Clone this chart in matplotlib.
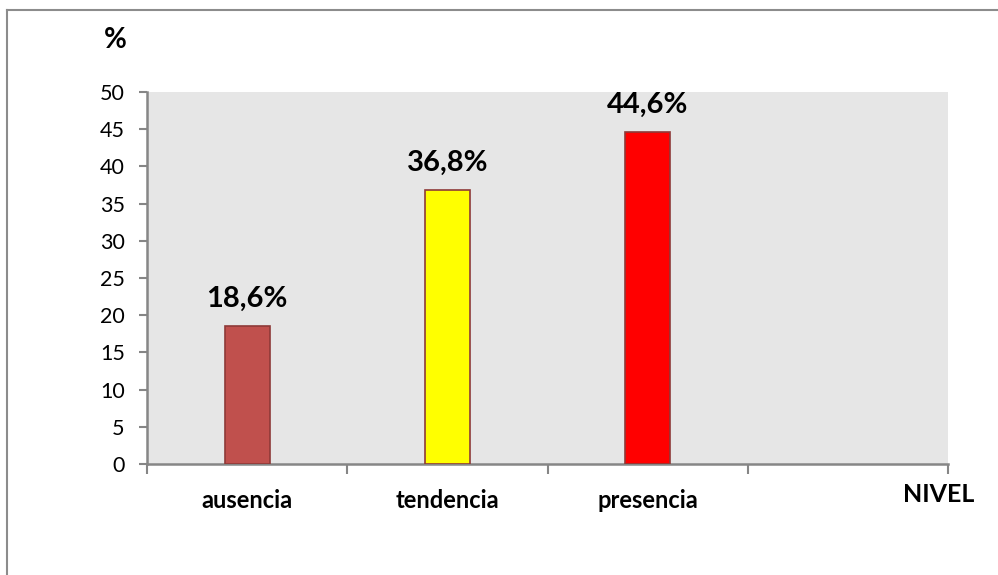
import matplotlib
matplotlib.use("Agg")
import matplotlib.pyplot as plt
from matplotlib.lines import Line2D

categories = ["ausencia", "tendencia", "presencia", ""]
values = [18.6, 36.8, 44.6]
value_labels = ["18,6%", "36,8%", "44,6%"]
bar_colors = ["#C0504D", "#FFFF00", "#FF0000"]
yticks = [0, 5, 10, 15, 20, 25, 30, 35, 40, 45, 50]

plt.rcParams['font.family'] = ['Lato', 'DejaVu Sans']

W, H = 998, 575
fig = plt.figure(figsize=(W / 100, H / 100), dpi=100)
ax = fig.add_axes([147 / W, 1 - 464 / H, (948 - 147) / W, (464 - 92) / H])
ax.set_facecolor("#E6E6E6")

x = list(range(len(values)))
ax.bar(x, values, width=0.225, color=bar_colors, edgecolor="#8E3A38", linewidth=1.2, zorder=3)
for xi, v, lab in zip(x, values, value_labels):
    ax.text(xi, v + 1.9, lab, ha="center", va="bottom", fontsize=21, fontweight="bold")

ax.set_xlim(-0.5, len(categories) - 0.5)
ax.set_ylim(0, 50)
ax.set_yticks(yticks)
ax.set_yticklabels([str(t) for t in yticks], fontsize=15.5)
ax.set_xticks(range(len(categories)))
ax.set_xticklabels(categories, fontsize=17, fontweight="bold")
ax.tick_params(axis="x", which="major", length=0, pad=18)
ax.set_xticks([i - 0.5 for i in range(len(categories) + 1)], minor=True)
ax.tick_params(axis="x", which="minor", length=7, color="#868686", width=1.5)
ax.tick_params(axis="y", length=6, color="#868686", width=1.5, pad=10)

for s in ["top", "right"]:
    ax.spines[s].set_visible(False)
for s in ["left", "bottom"]:
    ax.spines[s].set_color("#868686")
    ax.spines[s].set_linewidth(1.8)

fig.text(115 / W, 1 - 40 / H, "%", ha="center", va="center", fontsize=20, fontweight="bold")
fig.text(939 / W, 1 - 494 / H, "NIVEL", ha="center", va="center", fontsize=18, fontweight="bold")

fig.add_artist(Line2D([6.5 / W, 1.0], [1 - 9.5 / H, 1 - 9.5 / H], transform=fig.transFigure, color="#8C8C8C", linewidth=1.5))
fig.add_artist(Line2D([6.5 / W, 6.5 / W], [0, 1 - 9.5 / H], transform=fig.transFigure, color="#8C8C8C", linewidth=1.5))

fig.savefig("out.png", dpi=100)
